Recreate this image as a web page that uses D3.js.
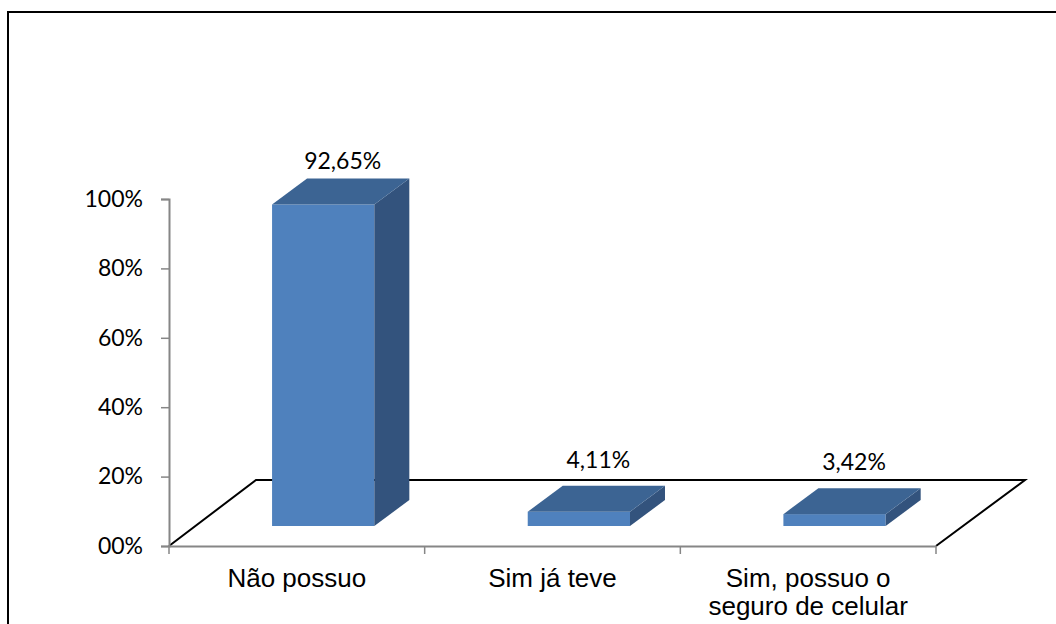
<!DOCTYPE html>
<html>
<head>
<meta charset="utf-8">
<script src="https://cdn.jsdelivr.net/npm/d3@7"></script>
<style>
  html, body { margin: 0; padding: 0; background: #fff; }
  svg { display: block; }
</style>
</head>
<body>
<svg id="chart" width="1056" height="624"></svg>
<script>
// Survey answers: does the respondent own mobile phone insurance?
const categories = ["Não possuo", "Sim já teve", "Sim, possuo o\nseguro de celular"];
const values = [92.65, 4.11, 3.42];
const valueLabels = ["92,65%", "4,11%", "3,42%"];
const yTicks = [0, 20, 40, 60, 80, 100];
const yTickLabels = ["00%", "20%", "40%", "60%", "80%", "100%"];

const svg = d3.select("#chart");

// Outer frame (open on the right and bottom)
svg.append("path")
  .attr("d", "M8,624 L8,12 L1056,12")
  .attr("fill", "none").attr("stroke", "#000").attr("stroke-width", 2);

// Plot geometry: front plane of the axes, and the receding floor
const x0 = 169, x1 = 936, yBase = 546, yTop = 199;
const floorDx = 87, floorDy = -66;     // full depth of the floor
const barDepthFrac = 20 / 66;          // where the bars' front faces sit in depth
const barDx = 35, barDy = -26;         // bar thickness in depth

const x = d3.scaleBand().domain(categories).range([x0, x1]).paddingInner(0).paddingOuter(0);
const y = d3.scaleLinear().domain([0, 100]).range([yBase, yTop]);

// Floor outline
svg.append("path")
  .attr("d", `M${x0},${yBase} L${x0 + floorDx},${yBase + floorDy} L${x1 + floorDx + 2},${yBase + floorDy} L${x1},${yBase}`)
  .attr("fill", "none").attr("stroke", "#000").attr("stroke-width", 2);

// Y axis
const yAxis = d3.axisLeft(y).tickValues(yTicks).tickSize(8).tickPadding(18)
  .tickFormat((d, i) => yTickLabels[i]);
const gy = svg.append("g").attr("transform", `translate(${x0},0)`).call(yAxis);
gy.select(".domain").attr("stroke", "#868686").attr("stroke-width", 2);
gy.selectAll(".tick line").attr("stroke", "#868686").attr("stroke-width", 1.5);
gy.selectAll(".tick text")
  .attr("font-family", "Lato, 'Open Sans', sans-serif")
  .attr("font-size", 23).attr("fill", "#000");

// X axis (front edge of the floor)
const xAxis = d3.axisBottom(x).tickSize(0).tickFormat("");
const gx = svg.append("g").attr("transform", `translate(0,${yBase})`).call(xAxis);
gx.select(".domain").attr("stroke", "#868686").attr("stroke-width", 2);
// category separators
const sepX = [x0, ...categories.map(c => x(c) + x.bandwidth())];
gx.selectAll(".sep").data(sepX).enter().append("line")
  .attr("class", "sep")
  .attr("x1", d => d).attr("x2", d => d).attr("y1", 0).attr("y2", 8)
  .attr("stroke", "#868686").attr("stroke-width", 1.5);

// Category labels
const catG = svg.append("g");
categories.forEach(c => {
  const lines = c.split("\n");
  const cx = x(c) + x.bandwidth() / 2;
  const t = catG.append("text")
    .attr("x", cx)
    .attr("y", 587)
    .attr("text-anchor", "middle")
    .attr("font-family", "'Liberation Sans', Arial, sans-serif")
    .attr("font-size", 26).attr("fill", "#000");
  lines.forEach((ln, i) => {
    t.append("tspan").attr("x", cx).attr("dy", i === 0 ? 0 : 28).text(ln);
  });
});

// 3D bars
const barW = x.bandwidth() * 0.4;
const offX = floorDx * barDepthFrac, offY = floorDy * barDepthFrac;
const bars = categories.map((c, i) => {
  const left = x(c) + x.bandwidth() / 2 - barW / 2 + offX;
  const bottom = y(0) + offY;
  const top = y(values[i]) + offY;
  return { c, v: values[i], label: valueLabels[i], left, right: left + barW, bottom, top };
});

const bg = svg.append("g");
bars.forEach(b => {
  // front face
  bg.append("rect")
    .attr("x", b.left).attr("y", b.top)
    .attr("width", b.right - b.left).attr("height", b.bottom - b.top)
    .attr("fill", "#4F81BD");
  // side face
  bg.append("path")
    .attr("d", `M${b.right},${b.top} L${b.right + barDx},${b.top + barDy} L${b.right + barDx},${b.bottom + barDy} L${b.right},${b.bottom} Z`)
    .attr("fill", "#33537D");
  // top face
  bg.append("path")
    .attr("d", `M${b.left},${b.top} L${b.left + barDx},${b.top + barDy} L${b.right + barDx},${b.top + barDy} L${b.right},${b.top} Z`)
    .attr("fill", "#3C6493");
});

// Value labels
bg.selectAll(".val").data(bars).enter().append("text")
  .attr("class", "val")
  .attr("x", b => (b.left + b.right) / 2 + barDx / 2 + 2)
  .attr("y", b => b.top + barDy - (b.v > 50 ? 10 : 18))
  .attr("text-anchor", "middle")
  .attr("font-family", "Lato, 'Open Sans', sans-serif")
  .attr("font-size", 23).attr("fill", "#000")
  .text(b => b.label);
</script>
</body>
</html>
